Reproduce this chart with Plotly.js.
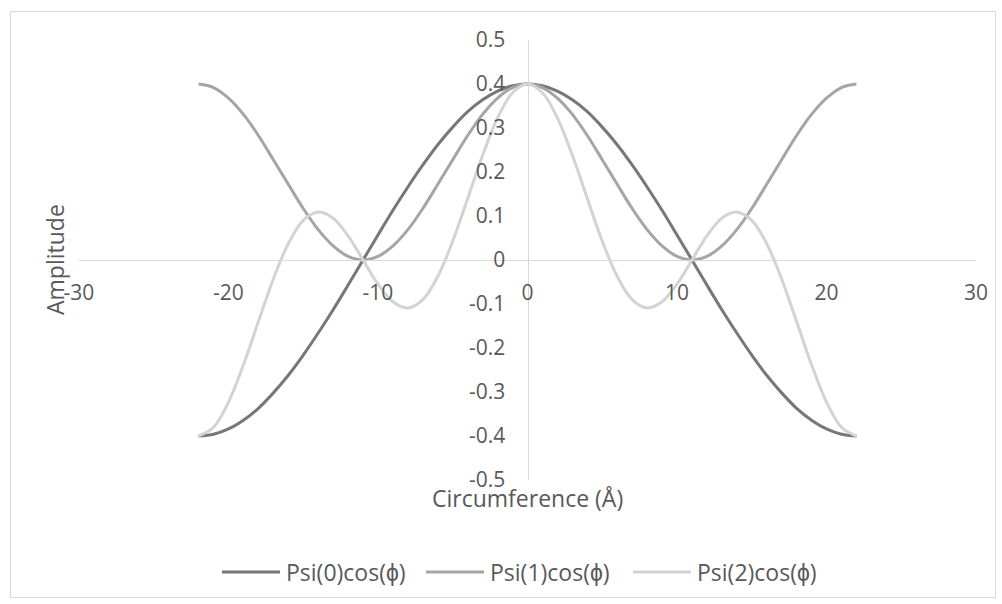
<!DOCTYPE html>
<html>
<head>
<meta charset="utf-8">
<script src="https://cdn.plot.ly/plotly-3.0.1.min.js"></script>
<style>
  html, body { margin: 0; padding: 0; background: #ffffff; }
  #wrap { position: relative; width: 1002px; height: 604px; }
  #chart { width: 1002px; height: 604px; }
  #frame {
    position: absolute; left: 10px; top: 11px; width: 986px; height: 587px;
    border: 1px solid #d9d9d9; box-sizing: border-box; pointer-events: none;
  }
</style>
</head>
<body>
<div id="wrap"><div id="chart"></div><div id="frame"></div></div>
<script>
// Position along the circumference (Å)
const circumference = [
  -22, -21, -20, -19, -18, -17, -16, -15, -14, -13, -12, -11, -10, -9, -8, -7, -6, -5, -4, -3, -2, -1,
  0, 1, 2, 3, 4, 5, 6, 7, 8, 9, 10, 11, 12, 13, 14, 15, 16, 17, 18, 19, 20, 21, 22
];

// Amplitude of each wave function
const psi0 = [
  -0.400, -0.396, -0.384, -0.364, -0.337, -0.302, -0.262, -0.216, -0.166, -0.113, -0.057, 0.000,
  0.057, 0.113, 0.166, 0.216, 0.262, 0.302, 0.337, 0.364, 0.384, 0.396, 0.400,
  0.396, 0.384, 0.364, 0.337, 0.302, 0.262, 0.216, 0.166, 0.113, 0.057, 0.000,
  -0.057, -0.113, -0.166, -0.216, -0.262, -0.302, -0.337, -0.364, -0.384, -0.396, -0.400
];
const psi1 = [
  0.400, 0.392, 0.368, 0.331, 0.283, 0.228, 0.172, 0.117, 0.069, 0.032, 0.008, 0.000,
  0.008, 0.032, 0.069, 0.117, 0.172, 0.228, 0.283, 0.331, 0.368, 0.392, 0.400,
  0.392, 0.368, 0.331, 0.283, 0.228, 0.172, 0.117, 0.069, 0.032, 0.008, 0.000,
  0.008, 0.032, 0.069, 0.117, 0.172, 0.228, 0.283, 0.331, 0.368, 0.392, 0.400
];
const psi2 = [
  -0.400, -0.380, -0.323, -0.238, -0.140, -0.043, 0.037, 0.090, 0.109, 0.095, 0.055, 0.000,
  -0.055, -0.095, -0.109, -0.090, -0.037, 0.043, 0.140, 0.238, 0.323, 0.380, 0.400,
  0.380, 0.323, 0.238, 0.140, 0.043, -0.037, -0.090, -0.109, -0.095, -0.055, 0.000,
  0.055, 0.095, 0.109, 0.090, 0.037, -0.043, -0.140, -0.238, -0.323, -0.380, -0.400
];

const seriesNames = ['Psi(0)cos(\u03d5)', 'Psi(1)cos(\u03d5)', 'Psi(2)cos(\u03d5)'];
const seriesColors = ['#777777', '#a5a5a5', '#d3d3d3'];

// Axis ticks
const xTickVals = [-30, -20, -10, 0, 10, 20, 30];
const xTickText = ['-30', '-20', '-10', '0', '10', '20', '30'];
const yTickVals = [-0.5, -0.4, -0.3, -0.2, -0.1, 0, 0.1, 0.2, 0.3, 0.4, 0.5];
const yTickText = ['-0.5', '-0.4', '-0.3', '-0.2', '-0.1', '0', '0.1', '0.2', '0.3', '0.4', '0.5'];

const xTitle = 'Circumference (\u00c5)';
const yTitle = 'Amplitude';

const font = 'Open Sans, sans-serif';
const textColor = '#595959';

// Plot area geometry (pixels)
const W = 1002, H = 604;
const margin = { l: 79, r: 26, t: 40, b: 124 };
const plotW = W - margin.l - margin.r;
const plotH = H - margin.t - margin.b;
const toPaperX = px => (px - margin.l) / plotW;
const toPaperY = py => (H - margin.b - py) / plotH;

const traces = [psi0, psi1, psi2].map((ys, i) => ({
  type: 'scatter',
  mode: 'lines',
  x: circumference,
  y: ys,
  name: seriesNames[i],
  line: { color: seriesColors[i], width: 3, shape: 'spline', smoothing: 1 },
  hoverinfo: 'skip'
}));

const axisBase = {
  anchor: 'free',
  position: 0.5,
  showline: true,
  linecolor: '#d9d9d9',
  linewidth: 1,
  showgrid: false,
  zeroline: false,
  ticks: '',
  tickmode: 'array',
  tickfont: { family: font, size: 21, color: textColor },
  fixedrange: true
};

// Legend below the plot: a line sample followed by the series name
const legendY = toPaperY(572);
const legendStarts = [222, 426, 633];
const legendLineLen = 58;
const legendShapes = seriesNames.map((n, i) => ({
  type: 'line', xref: 'paper', yref: 'paper',
  x0: toPaperX(legendStarts[i]), x1: toPaperX(legendStarts[i] + legendLineLen),
  y0: legendY, y1: legendY,
  line: { color: seriesColors[i], width: 3 }
}));
const legendLabels = seriesNames.map((n, i) => ({
  text: n, xref: 'paper', yref: 'paper',
  x: toPaperX(legendStarts[i] + legendLineLen + 4), y: legendY,
  xanchor: 'left', yanchor: 'middle', showarrow: false,
  font: { family: font, size: 23, color: textColor }
}));

const layout = {
  width: W,
  height: H,
  margin: margin,
  paper_bgcolor: '#ffffff',
  plot_bgcolor: 'rgba(0,0,0,0)',
  font: { family: font, color: textColor },
  showlegend: false,
  xaxis: Object.assign({}, axisBase, {
    range: [-30, 30],
    tickvals: xTickVals,
    ticktext: xTickText,
    ticklabelstandoff: 14
  }),
  yaxis: Object.assign({}, axisBase, {
    range: [-0.5, 0.5],
    tickvals: yTickVals,
    ticktext: yTickText,
    ticklabelstandoff: 18
  }),
  shapes: legendShapes,
  annotations: [
    {
      text: xTitle, xref: 'paper', yref: 'paper', x: 0.5, y: toPaperY(498),
      xanchor: 'center', yanchor: 'middle', showarrow: false,
      font: { family: font, size: 23, color: textColor }
    },
    {
      text: yTitle, xref: 'paper', yref: 'paper', x: toPaperX(55), y: 0.5,
      xanchor: 'center', yanchor: 'middle', textangle: -90, showarrow: false,
      font: { family: font, size: 23, color: textColor }
    }
  ].concat(legendLabels)
};

Plotly.newPlot('chart', traces, layout, { staticPlot: true, displayModeBar: false });
</script>
</body>
</html>
